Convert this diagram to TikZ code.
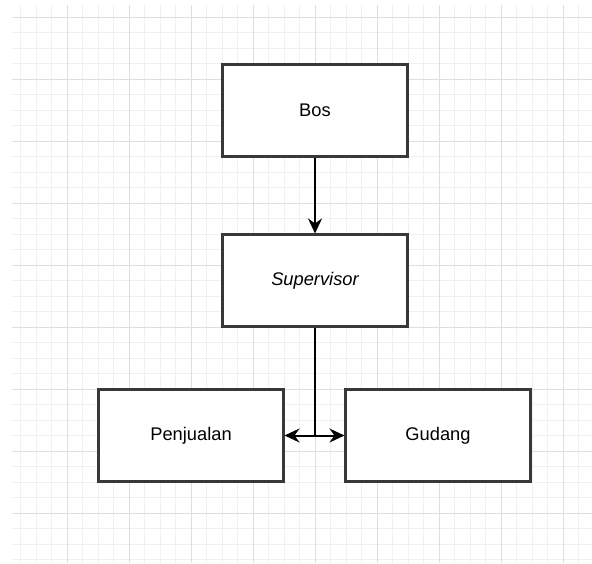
\documentclass[tikz,border=0pt]{standalone}
\usepackage{fontspec}
\setmainfont{Liberation Sans}
\usetikzlibrary{arrows.meta}
\begin{document}
\begin{tikzpicture}[x=1pt,y=-1pt,
  box/.style={draw=black!78,line width=2.1pt,fill=white,minimum width=185pt,minimum height=92pt,inner sep=0pt,font=\fontsize{18.3}{21}\selectfont},
  conn/.style={draw=black,line width=2pt},
  tip/.style={-{Stealth[length=15pt,width=14pt,inset=5pt]}}]
\useasboundingbox (0,0) rectangle (592,563);
\fill[white] (0,0) rectangle (592,563);
\begin{scope}
\clip (12,5) rectangle (592,563);
\foreach \i in {-3,...,37} {\draw[color=black!6,line width=1pt] ({67+15.5*\i},5) -- ({67+15.5*\i},563);}
\foreach \i in {0,...,36} {\draw[color=black!6,line width=1pt] (12,{17+15.5*\i}) -- (592,{17+15.5*\i});}
\foreach \i in {0,...,9} {\draw[color=black!13,line width=1pt] ({67+62*\i},5) -- ({67+62*\i},563);}
\foreach \i in {0,...,9} {\draw[color=black!13,line width=1pt] (12,{17+62*\i}) -- (592,{17+62*\i});}
\end{scope}
\node[box] (bos) at (315,110.5) {Bos};
\node[box] (sup) at (315,280.5) {\itshape Supervisor};
\node[box] (pen) at (191,435.5) {Penjualan};
\node[box] (gud) at (438,435.5) {Gudang};
\coordinate (j) at (sup.south |- pen.east);
\draw[conn,tip] (bos.south) -- (sup.north);
\draw[conn] (sup.south) -- (j);
\draw[conn,tip] (j) -- (pen.east);
\draw[conn,tip] (j) -- (gud.west);
\end{tikzpicture}
\end{document}
